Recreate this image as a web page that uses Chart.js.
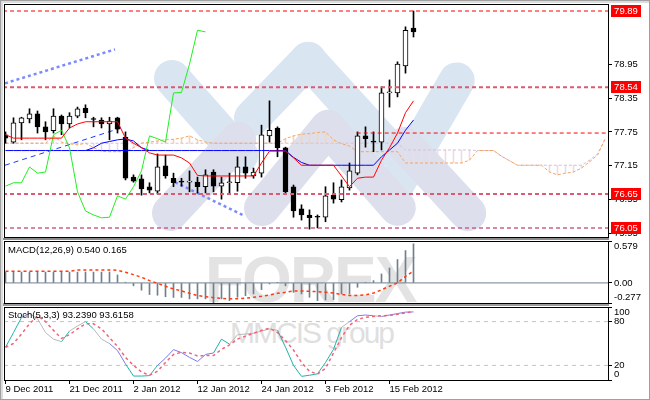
<!DOCTYPE html>
<html><head><meta charset="utf-8">
<script src="https://cdn.jsdelivr.net/npm/chart.js@4/dist/chart.umd.min.js"></script>
<style>
html,body{margin:0;padding:0;background:#fff;}
#wrap{position:relative;width:650px;height:400px;overflow:hidden;background:#fff;box-sizing:border-box;border:1px solid #a0a0a0;}
canvas{position:absolute;left:-1px;z-index:3;}
.wm{position:absolute;z-index:1;white-space:nowrap;font-family:'Liberation Sans',Arial,sans-serif;line-height:1;}
.stroke{position:absolute;z-index:1;transform-origin:0 50%;}
.sep{position:absolute;z-index:2;}
.ttl{position:absolute;z-index:4;white-space:nowrap;font-family:'Liberation Sans',Arial,sans-serif;font-size:9.5px;line-height:1;color:#000;}
</style></head><body>
<div id="wrap">
  <div class="sep" style="left:0;top:0;width:650px;height:2px;background:#dcdcdc"></div>
  <div class="sep" style="left:0;top:0;width:2px;height:400px;background:#dcdcdc"></div>
  <div class="sep" style="left:2px;top:237px;width:606px;height:2px;background:#8a8a8a"></div>
  <div class="sep" style="left:2px;top:302px;width:606px;height:3px;background:#9a9a9a"></div>
  <div class="wm" style="left:204px;top:247px;font-size:64px;font-weight:bold;letter-spacing:-2px;color:#e3e3e3;">FOREX</div>
  <div class="wm" style="left:229px;top:317px;font-size:30px;letter-spacing:-2px;color:#dfdfdf;">MMCIS group</div>
  <canvas id="cMain" width="650" height="240" style="top:-1px"></canvas>
  <canvas id="cMacd" width="650" height="74" style="top:231px"></canvas>
  <canvas id="cStoch" width="650" height="102" style="top:297px"></canvas>
  <div class="ttl" id="tMacd" style="left:7px;top:244px"></div>
  <div class="ttl" id="tStoch" style="left:7px;top:309px"></div>
</div>
<script>
// ---------- data ----------
const dates = ['9 Dec 2011','21 Dec 2011','2 Jan 2012','12 Jan 2012','24 Jan 2012','3 Feb 2012','15 Feb 2012'];
const dateIdx = [0, 8, 16, 24, 32, 40, 48];

const opens = [77.70,77.57,77.91,77.98,78.07,77.84,77.77,78.03,77.89,78.03,
  78.17,77.98,77.96,77.89,78.00,77.66,76.95,76.92,76.78,76.70,
  77.15,76.93,76.87,76.86,76.86,76.78,77.04,76.79,76.85,76.85,
  77.13,76.97,77.02,77.68,77.82,77.47,76.78,76.39,76.28,76.25,
  76.24,76.63,76.55,76.76,77.02,77.68,77.58,77.57,78.44,78.44,
  78.92,79.59];
const highs = [77.75,78.00,78.01,78.16,78.12,77.93,78.16,78.05,78.09,78.19,
  78.23,78.01,78.00,78.01,78.01,77.75,76.99,76.99,76.85,77.36,
  77.34,77.02,76.93,77.06,76.95,77.08,77.08,76.95,77.02,77.31,
  77.31,77.11,77.87,78.30,77.84,77.48,76.81,76.46,76.37,76.28,
  76.78,76.85,76.90,77.20,77.75,77.84,77.75,78.55,78.67,78.99,
  79.61,79.89];
const lows = [77.55,77.55,77.61,77.91,77.73,77.61,77.73,77.70,77.82,78.00,
  78.00,77.84,77.82,77.61,77.73,76.90,76.86,76.63,76.67,76.65,
  76.93,76.78,76.79,76.69,76.67,76.67,76.69,76.56,76.67,76.70,
  76.93,76.93,76.95,77.57,77.31,76.67,76.24,76.19,76.03,76.05,
  76.16,76.49,76.51,76.72,76.99,77.48,77.40,77.43,78.19,78.37,
  78.79,79.43];
const closes = [77.64,77.91,78.00,78.07,77.84,77.75,78.03,77.89,78.03,78.16,
  78.09,77.97,77.89,77.94,77.80,76.93,76.88,76.74,76.72,77.13,
  76.97,76.85,76.86,76.87,76.78,76.99,76.79,76.85,76.85,77.13,
  77.02,77.04,77.70,77.78,77.47,76.69,76.35,76.28,76.23,76.24,
  76.62,76.56,76.78,77.06,77.68,77.63,77.57,78.44,78.45,78.95,
  79.55,79.52];

const tenkan = [77.70,77.64,77.64,77.64,77.64,77.64,77.64,77.64,77.82,77.89,
  77.93,77.93,77.93,77.93,77.93,77.64,77.55,77.47,77.38,77.34,
  77.34,77.34,77.29,77.20,76.98,76.97,76.97,76.97,76.97,76.97,
  76.97,76.97,77.20,77.41,77.41,77.41,77.29,77.16,77.16,77.16,
  77.16,77.16,76.97,76.78,76.93,76.95,76.95,77.25,77.47,77.73,
  78.09,78.30];
const kijun = [77.42,77.42,77.42,77.42,77.42,77.42,77.42,77.42,77.42,77.42,
  77.42,77.42,77.42,77.42,77.42,77.42,77.42,77.42,77.42,77.42,
  77.42,77.42,77.42,77.42,77.42,77.42,77.42,77.42,77.42,77.42,
  77.42,77.42,77.42,77.42,77.42,77.42,77.30,77.21,77.16,77.16,
  77.16,77.16,77.16,77.16,77.16,77.16,77.16,77.31,77.43,77.55,
  77.78,77.96];
const blueLine = [null,null,null,null,null,null,null,null,null,null,
  77.42,77.47,77.55,77.58,77.61,77.625,77.59,77.47,77.42,null];
const senkouA = [77.55,77.55,77.55,77.55,77.55,77.55,77.68,77.57,77.54,77.52,
  77.55,77.47,77.41,77.40,77.40,77.40,77.47,77.55,77.57,77.59,
  77.61,77.62,77.64,77.68,77.61,77.57,77.55,77.55,77.55,77.55,
  77.55,77.55,77.55,77.55,77.55,77.63,77.68,77.71,77.72,77.74,
  77.75,77.61,77.54,77.50,77.40,77.40,77.40,77.40,77.40,77.40,
  77.20,77.20,77.20,77.20,77.20,77.20,77.20,77.20,77.25,77.42,
  77.42,77.42,77.32,77.24,77.16,77.16,77.16,77.16,77.04,76.99,
  77.02,77.04,77.11,77.22,77.34,77.64];
const senkouB = [77.55,77.55,77.55,77.55,77.55,77.55,77.55,77.55,77.55,77.55,
  77.55,77.55,77.55,77.55,77.55,77.55,77.55,77.55,77.55,77.55,
  77.55,77.55,77.55,77.55,77.55,77.55,77.55,77.55,77.55,77.55,
  77.55,77.55,77.55,77.55,77.55,77.55,77.55,77.55,77.55,77.55,
  77.55,77.55,77.55,77.55,77.55,77.55,77.55,77.55,77.55,77.55,
  77.43,77.43,77.43,77.43,77.43,77.43,77.43,77.43,77.43,77.42,
  77.42,77.42,77.32,77.24,77.16,77.16,77.16,77.16,77.16,77.16,
  77.16,77.16,77.16,77.25,77.36,77.64];

const levels = [79.89, 78.54, 76.65, 76.05];
const resistLevel = 77.73, resistFrom = 43.9;
const trendUpX = [-0.06, 13.69], trendUpY = [78.61, 79.21];
const trendDnX = [21.19, 29.94], trendDnY = [76.86, 76.26];
const trendBlueX = [-0.06, 14.44], trendBlueY = [77.16, 77.82];
const priceTicks = [78.95, 78.35, 77.75, 77.15, 76.55, 75.95];

const macdHist = [0.15,0.15,0.15,0.15,0.15,0.15,0.15,0.15,0.15,0.15,
  0.15,0.15,0.15,0.15,0.11,0.01,-0.04,-0.10,-0.16,-0.17,
  -0.19,-0.20,-0.20,-0.22,-0.22,-0.22,-0.277,-0.22,-0.244,-0.198,
  -0.175,-0.152,-0.092,-0.014,0.004,-0.04,-0.13,-0.152,-0.198,-0.244,
  -0.235,-0.23,-0.152,-0.152,-0.06,0.005,0.032,0.124,0.207,0.323,
  0.447,0.540];
const macdSignal = [0.161,0.161,0.161,0.161,0.161,0.161,0.161,0.161,0.161,0.18,
  0.18,0.18,0.18,0.18,0.175,0.147,0.115,0.078,0.032,-0.005,
  -0.046,-0.083,-0.11,-0.143,-0.175,-0.189,-0.203,-0.215,-0.22,-0.22,
  -0.21,-0.198,-0.184,-0.166,-0.143,-0.129,-0.11,-0.11,-0.115,-0.12,
  -0.13,-0.14,-0.16,-0.172,-0.175,-0.165,-0.14,-0.095,-0.045,0.0,
  0.09,0.165];
const macdTicks = [0.579, 0, -0.277];

const stochK = [44.8,65,85.5,91,84,65,56,52.5,67,74,
  80,70,56,50,40.3,22,5.4,5.4,6,20,
  30,41.6,37.5,31,25.3,35,37,56,49,62,
  63,64,67,70,68,45,20,5,6.5,8.5,
  24,42,72,80,88,89,88,87,89,91,
  93,93.239];
const stochD = [44.8,50,63,77,88,80,68,57,62,70,
  77,77,70,58,46,31,20,11,6.5,12,
  24,35,38,37,33,33.5,33.5,42,48,56,
  60,64,68,71,65,54,41,24,12,8,
  16,37,58,75,83,86,87,88,88.5,90,
  92,93.6158];
const stochKTrend = 'ttbggggtggtggbbttttbbbbbbbttggggggttttttttgbbbgbbbb';
const stochTicks = [100, 80, 20, 0];
const stochLevels = [80, 20];

// ---------- helpers ----------
const XMIN = -0.1875, XMAX = 75.3125;
const N = closes.length;
const I = [...Array(N).keys()];
const FONT = {family: "'Liberation Sans', Arial, sans-serif", size: 9.5};
Chart.defaults.font.family = FONT.family;

function line(data, color, extra) {
  return Object.assign({type:'line', data, borderColor:color, borderWidth:1, pointRadius:0,
    pointHitRadius:0, fill:false, tension:0, spanGaps:false}, extra || {});
}
function hline(v, from, to) { return [{x:from, y:v}, {x:to, y:v}]; }
function seg(xs, ys) { return xs.map((x, k) => ({x, y: ys[k]})); }
function yAxis(min, max, ticks, fmt) {
  return {position:'right', min, max,
    afterFit(s){ s.width = 42; s.paddingTop = 0; s.paddingBottom = 0; },
    afterBuildTicks(s){ s.ticks = ticks.map(v => ({value:v})); },
    ticks:{font:FONT, color:'#000', padding:2, autoSkip:false, callback:fmt},
    grid:{display:true, drawOnChartArea:false, drawTicks:true, tickLength:4, tickColor:'#000', tickWidth:1},
    border:{display:false}};
}
const hiddenX = {type:'linear', min:XMIN, max:XMAX, display:false, offset:false, grid:{offset:false}};
const framePlugin = {id:'frame', afterDraw(c){
  const a = c.chartArea, x = c.ctx; x.save(); x.strokeStyle = '#000'; x.lineWidth = 1;
  x.strokeRect(Math.round(a.left)+0.5, Math.round(a.top)+0.5, Math.round(a.right-a.left), Math.round(a.bottom-a.top));
  x.restore(); }};
const common = {responsive:false, animation:false, devicePixelRatio:1, events:[],
  plugins:{legend:{display:false}, tooltip:{enabled:false}, title:{display:false}}};

// ---------- watermark logo (decoration) ----------
(function(){
  const wrap = document.getElementById('wrap');
  const strokes = [
    {c:'#d9e6f2', p:[[172,78],[240,155]]},
    {c:'#d9e6f2', p:[[252,118],[308,60],[388,148]]},
    {c:'#d9e6f2', p:[[392,192],[457,80]]},
    {c:'#dde0ec', p:[[170,213],[238,140]]},
    {c:'#dde0ec', p:[[262,208],[328,128],[398,208]]},
    {c:'#dde0ec', p:[[405,145],[468,213]]}
  ];
  const w = 36;
  strokes.forEach(s => {
    for (let k = 0; k < s.p.length - 1; k++) {
      const [x1,y1] = s.p[k], [x2,y2] = s.p[k+1];
      const L = Math.hypot(x2-x1, y2-y1), ang = Math.atan2(y2-y1, x2-x1);
      const d = document.createElement('div'); d.className = 'stroke';
      d.style.cssText = `left:${x1-1}px;top:${y1-1-w/2}px;width:${L+w}px;height:${w}px;background:${s.c};border-radius:${w/2}px;transform:rotate(${ang}rad) translateX(${-w/2}px);`;
      wrap.appendChild(d);
    }
  });
})();

// ---------- main chart ----------
const chikou = I.filter(i => i + 26 < N).map(i => ({x:i, y:closes[i+26]}));
const cloudIdx = senkouA.map((_, i) => i);
const hatchUp = cloudIdx.filter(i => senkouA[i] - senkouB[i] > 0.02).map(i => ({x:i, y:[senkouB[i], senkouA[i]]}));
const hatchDn = cloudIdx.filter(i => senkouB[i] - senkouA[i] > 0.02).map(i => ({x:i, y:[senkouA[i], senkouB[i]]}));
const levelStyle = [{c:'#ff0000', w:1}, {c:'#dc5a72', w:2}, {c:'#dc5a72', w:2}, {c:'#c8628a', w:1.5}];

const levelTags = {id:'tags', afterDraw(c){
  const y = c.scales.y, x = c.ctx; x.save();
  x.font = "9.5px 'Liberation Sans', Arial, sans-serif"; x.textAlign = 'center'; x.textBaseline = 'middle';
  levels.forEach(v => { const py = Math.round(y.getPixelForValue(v));
    x.fillStyle = '#ff0000'; x.fillRect(611, py-6, 30, 12);
    x.fillStyle = '#ffffff'; x.fillText(v.toFixed(2), 626, py+0.5); });
  x.restore(); }};

new Chart(document.getElementById('cMain'), {
  type:'bar',
  data:{datasets:[
    {type:'bar', data:hatchUp, backgroundColor:'#f9d3b3', barThickness:1, grouped:false, borderWidth:0, order:20},
    {type:'bar', data:hatchDn, backgroundColor:'#e9dce9', barThickness:1, grouped:false, borderWidth:0, order:20},
    line(cloudIdx.map(i => ({x:i, y:senkouA[i]})), '#f4a460', {borderDash:[3,2], order:19}),
    line(cloudIdx.map(i => ({x:i, y:senkouB[i]})), '#d8bfd8', {borderDash:[3,2], order:19}),
    line(seg(trendUpX, trendUpY), '#7b8bff', {borderWidth:2.5, borderDash:[3,3], order:15}),
    line(seg(trendDnX, trendDnY), '#7b8bff', {borderWidth:2.5, borderDash:[3,3], order:15}),
    line(seg(trendBlueX, trendBlueY), '#1a3cff', {borderWidth:1, borderDash:[5,4], order:15}),
    {type:'bar', data:I.map(i => ({x:i, y:[lows[i], highs[i]]})), backgroundColor:'#000', barThickness:1, grouped:false, borderWidth:0, order:12},
    {type:'bar', data:I.map(i => ({x:i, y:[opens[i], closes[i]]})),
      backgroundColor:I.map(i => closes[i] >= opens[i] ? '#ffffff' : '#000000'),
      borderColor:'#000', borderWidth:1, borderSkipped:false, barThickness:5, minBarLength:1, grouped:false, order:11},
    line(I.map(i => ({x:i, y:kijun[i]})), '#0000ff', {order:5}),
    line(blueLine.map((v, i) => ({x:i, y:v})), '#0000ff', {order:5}),
    line(I.map(i => ({x:i, y:tenkan[i]})), '#ff0000', {order:4}),
    line(chikou, '#22ee22', {order:4}),
    ...levels.map((v, k) => line(hline(v, XMIN-1, XMAX+1), levelStyle[k].c, {borderWidth:levelStyle[k].w, borderDash:[4,3], order:2})),
    line(hline(resistLevel, resistFrom, XMAX+1), '#ff0000', {borderDash:[4,3], order:2})
  ]},
  options:Object.assign({}, common, {
    layout:{padding:{left:4, right:0, top:4, bottom:3}},
    scales:{x:hiddenX, y:yAxis(75.89, 80.014, priceTicks, v => v.toFixed(2))}
  }),
  plugins:[framePlugin, levelTags]
});

// ---------- MACD ----------
document.getElementById('tMacd').textContent = `MACD(12,26,9) ${macdHist[N-1].toFixed(3)} ${macdSignal[N-1].toFixed(3)}`;
new Chart(document.getElementById('cMacd'), {
  type:'bar',
  data:{datasets:[
    line(hline(0, XMIN-1, XMAX+1), '#708090', {order:10}),
    {type:'bar', data:I.map(i => ({x:i, y:macdHist[i]})), backgroundColor:'#708090', barThickness:1, grouped:false, borderWidth:0, order:5},
    line(I.map(i => ({x:i, y:macdSignal[i]})), '#ff3a10', {borderWidth:1.5, borderDash:[3,3], order:1})
  ]},
  options:Object.assign({}, common, {
    layout:{padding:{left:4, right:0, top:9, bottom:3}},
    scales:{x:hiddenX, y:yAxis(-0.277, 0.579, macdTicks, v => {
      const s = v === 0 ? '0.00' : v.toFixed(3);
      return v === macdTicks[0] ? ['', s] : (v === macdTicks[macdTicks.length-1] ? [s, ''] : s); })}
  }),
  plugins:[framePlugin]
});

// ---------- Stochastic ----------
document.getElementById('tStoch').textContent = `Stoch(5,3,3) ${stochK[N-1].toFixed(4)} ${stochD[N-1].toFixed(4)}`;
const kColors = {t:'#20b2aa', g:'#b9b9b9', b:'#7b7bee'};
new Chart(document.getElementById('cStoch'), {
  type:'line',
  data:{datasets:[
    ...stochLevels.map(v => line(hline(v, XMIN-1, XMAX+1), '#c9c4ba', {borderDash:[4,4], order:10})),
    line(I.map(i => ({x:i, y:stochK[i]})), '#20b2aa', {order:3,
      segment:{borderColor: ctx => kColors[stochKTrend[ctx.p0DataIndex]] || '#20b2aa'}}),
    line(I.map(i => ({x:i, y:stochD[i]})), '#f0647a', {borderWidth:1.5, borderDash:[3,3], order:1})
  ]},
  options:Object.assign({}, common, {
    layout:{padding:{left:4, right:0, top:9, bottom:0}},
    scales:{
      x:{type:'linear', min:XMIN, max:XMAX, position:'bottom', offset:false,
        afterFit(s){ s.height = 20; s.paddingLeft = 0; s.paddingRight = 0; },
        afterBuildTicks(s){ s.ticks = dateIdx.map(v => ({value:v})); },
        ticks:{font:FONT, color:'#000', padding:0, autoSkip:false, maxRotation:0, minRotation:0, align:'start',
          callback: v => dates[dateIdx.indexOf(v)]},
        grid:{display:true, drawOnChartArea:false, drawTicks:true, tickLength:4, tickColor:'#000', offset:false},
        border:{display:false}},
      y:yAxis(0, 100, stochTicks, v => v === 100 ? ['', '100'] : (v === 0 ? ['0', ''] : String(v)))
    }
  }),
  plugins:[framePlugin]
});
</script>
</body></html>
